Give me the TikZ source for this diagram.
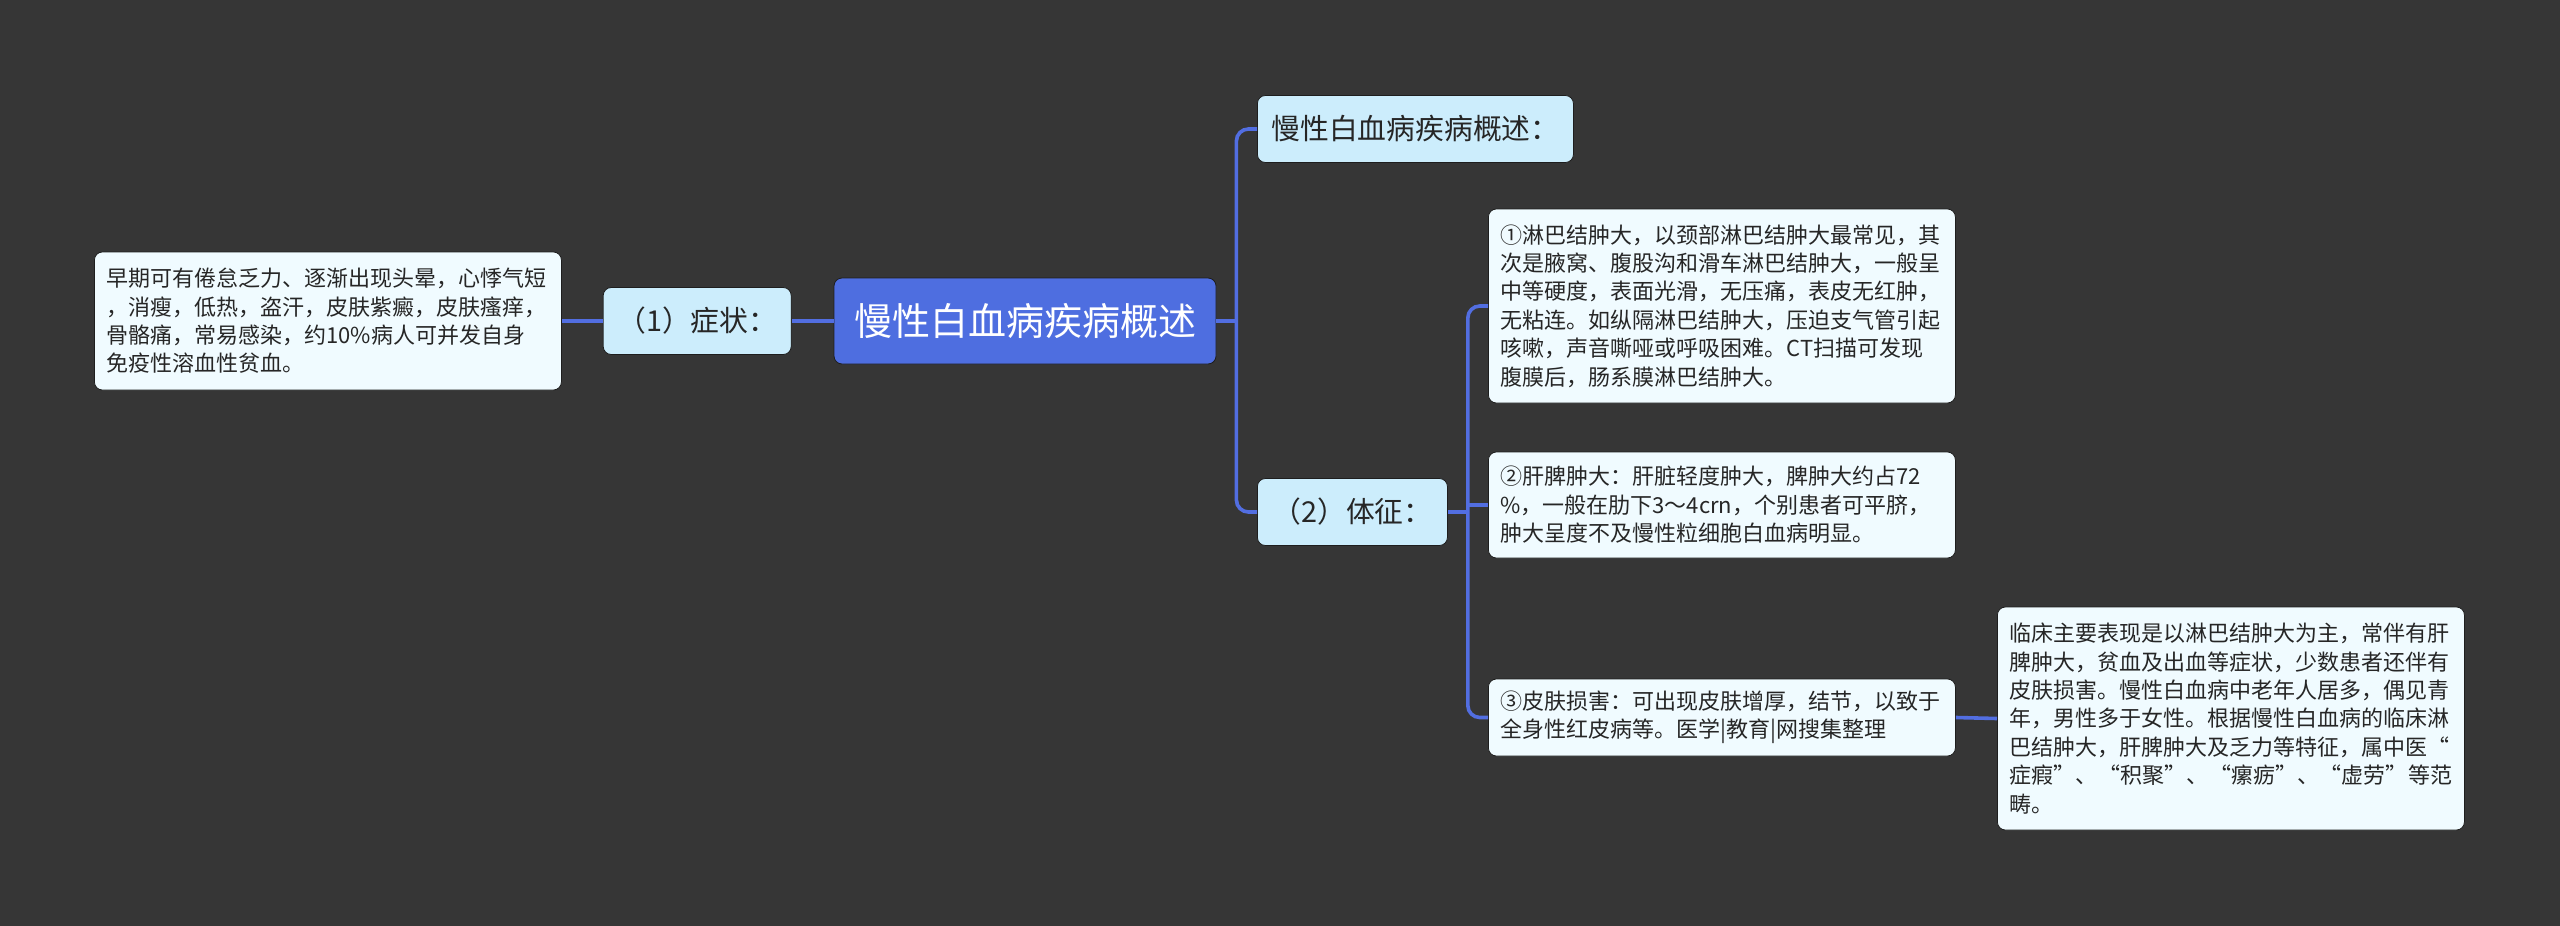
\documentclass[tikz,border=0pt]{standalone}
\usepackage{fontspec}
\setmainfont{Noto Sans CJK SC}
\usepackage{tikz}
\usetikzlibrary{positioning}
\definecolor{mmbg}{RGB}{54,54,54}
\definecolor{mmroot}{RGB}{78,110,224}
\definecolor{mmtopic}{RGB}{204,237,252}
\definecolor{mmleaf}{RGB}{240,251,255}
\definecolor{mmline}{RGB}{82,110,225}
\definecolor{mmedge}{RGB}{30,30,30}

\begin{document}
\begin{tikzpicture}[x=0.5pt,y=-0.5pt,
    rootbox/.style={draw=mmedge,rounded corners=4pt,fill=mmroot,text=white,font=\fontsize{19pt}{22pt}\selectfont,minimum height=43pt,inner xsep=10pt},
    topicbox/.style={draw=mmedge,rounded corners=4pt,fill=mmtopic,text=black!85,font=\fontsize{14.4pt}{17pt}\selectfont,minimum height=33.5pt,inner xsep=7pt},
    leafbox/.style={draw=mmedge,rounded corners=4pt,fill=mmleaf,text=black!85,font=\fontsize{11pt}{14.2pt}\selectfont,text width=221.5pt,align=left,inner xsep=6pt,inner ysep=0pt},
    link/.style={mmline,line width=1.8pt,rounded corners=6pt}]
  \fill[mmbg] (0,0) rectangle (2560,926);
  \useasboundingbox (0,0) rectangle (2560,926);

  \node[rootbox] (root) at (1025,321) {慢性白血病疾病概述};
  \node[topicbox,left=21pt of root] (sym) {（1）症状：};
  \node[leafbox,minimum height=69pt,left=20.5pt of sym] (symtext) {早期可有倦怠乏力、逐渐出现头晕，心悸气短\\，消瘦，低热，盗汗，皮肤紫癜，皮肤瘙痒，\\骨骼痛，常易感染，约10\%病人可并发自身\\免疫性溶血性贫血。};

  \node[topicbox,anchor=west] (ovw) at (1257,129) {慢性白血病疾病概述：};
  \node[topicbox,anchor=west,minimum width=95pt] (sign) at (1257,512) {（2）体征：};

  \node[leafbox,anchor=west,minimum height=97pt] (lymph) at (1488,306) {①淋巴结肿大，以颈部淋巴结肿大最常见，其\\次是腋窝、腹股沟和滑车淋巴结肿大，一般呈\\中等硬度，表面光滑，无压痛，表皮无红肿，\\无粘连。如纵隔淋巴结肿大，压迫支气管引起\\咳嗽，声音嘶哑或呼吸困难。CT扫描可发现\\腹膜后，肠系膜淋巴结肿大。};
  \node[leafbox,anchor=west,minimum height=53pt] (spleen) at (1488,505) {②肝脾肿大：肝脏轻度肿大，脾肿大约占72\\\%，一般在肋下3～4crn，个别患者可平脐，\\肿大呈度不及慢性粒细胞白血病明显。};
  \node[leafbox,anchor=west,minimum height=38.5pt] (skin) at (1488,717.5) {③皮肤损害：可出现皮肤增厚，结节，以致于\\全身性红皮病等。医学|教育|网搜集整理};
  \node[leafbox,anchor=west,minimum height=111.5pt] (clinic) at (1997,718.5) {临床主要表现是以淋巴结肿大为主，常伴有肝\\脾肿大，贫血及出血等症状，少数患者还伴有\\皮肤损害。慢性白血病中老年人居多，偶见青\\年，男性多于女性。根据慢性白血病的临床淋\\巴结肿大，肝脾肿大及乏力等特征，属中医“\\症瘕”\hfill、\hfill“积聚”\hfill、\hfill“瘰疬”\hfill、\hfill“虚劳”\hfill 等范\\畴。};

  \draw[link] (root.west) -- (sym.east);
  \draw[link] (sym.west) -- (symtext.east);
  \path (root.east) ++(20,0) coordinate (rootfork);
  \draw[link] (root.east) -- (rootfork);
  \draw[link] (rootfork) |- (ovw.west);
  \draw[link] (rootfork) |- (sign.west);
  \path (sign.east) ++(20,0) coordinate (signfork);
  \draw[link] (sign.east) -- (signfork);
  \draw[link] (signfork) |- (lymph.west);
  \draw[link] (signfork |- spleen.west) -- (spleen.west);
  \draw[link] (signfork) |- (skin.west);
  \draw[link] (skin.east) -- (clinic.west);
\end{tikzpicture}
\end{document}
